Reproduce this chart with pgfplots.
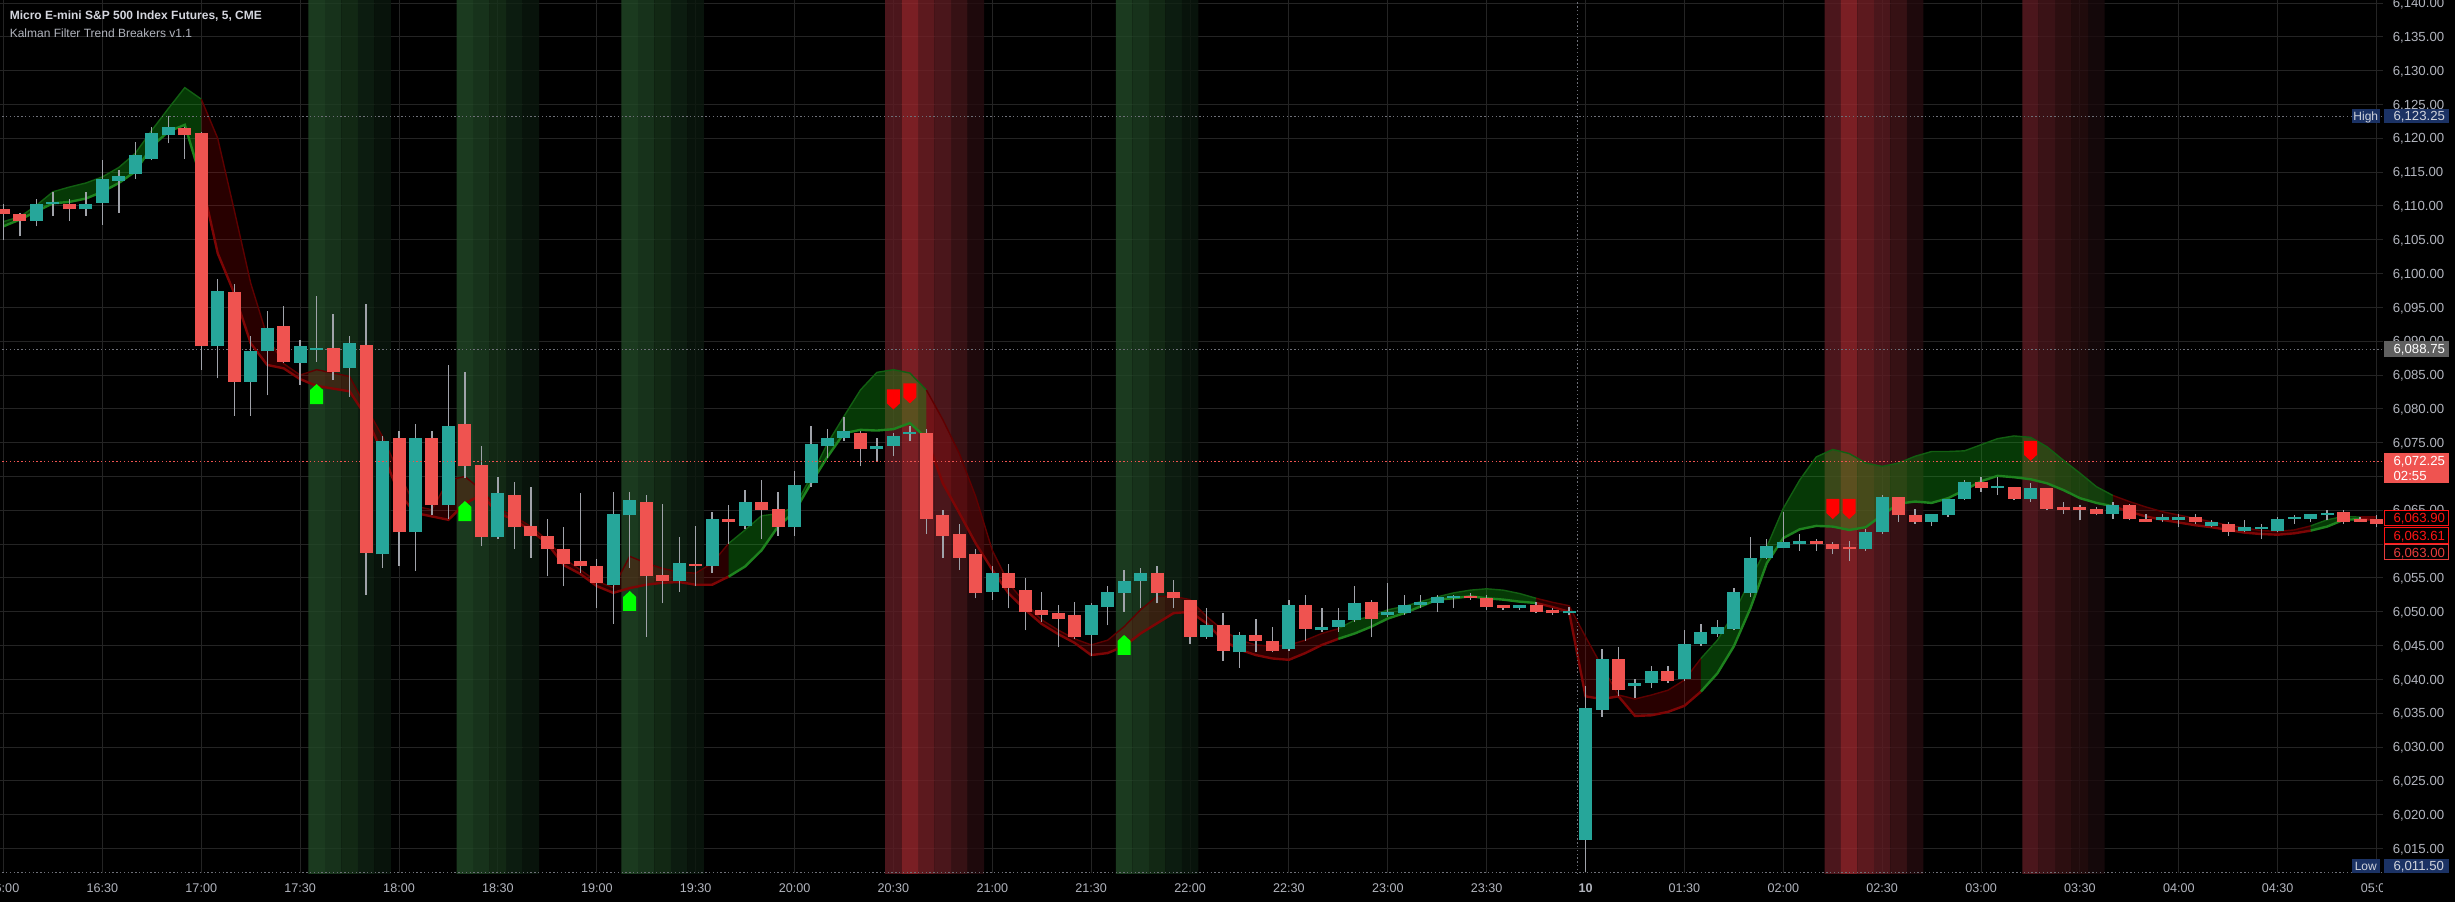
\documentclass[border=0pt]{standalone}
\usepackage{fontspec}
\setmainfont{Liberation Sans}
\usepackage{pgfplots}
\pgfplotsset{compat=1.18}
\usepackage{pgfplotstable}

\definecolor{bull}{RGB}{38,166,154}
\definecolor{bear}{RGB}{239,83,80}
\definecolor{wick}{RGB}{160,163,170}
\definecolor{gridc}{RGB}{36,36,36}
\definecolor{txt}{RGB}{178,181,190}
\definecolor{ttl}{RGB}{212,214,222}
\definecolor{gA}{RGB}{34,73,39}
\definecolor{gB}{RGB}{29,63,34}
\definecolor{gC}{RGB}{23,50,26}
\definecolor{gD}{RGB}{16,36,20}
\definecolor{gE}{RGB}{11,24,14}
\definecolor{rA}{RGB}{94,28,35}
\definecolor{rB}{RGB}{73,23,28}
\definecolor{rC}{RGB}{55,18,21}
\definecolor{rD}{RGB}{40,14,16}
\definecolor{rE}{RGB}{26,10,13}
\definecolor{dA}{RGB}{94,28,35}
\definecolor{dB}{RGB}{153,39,45}
\definecolor{dC}{RGB}{115,32,38}
\definecolor{dD}{RGB}{93,28,34}
\definecolor{dE}{RGB}{68,22,26}
\definecolor{dF}{RGB}{38,12,15}
\definecolor{gLineU}{RGB}{18,95,18}
\definecolor{gLineL}{RGB}{30,130,30}
\definecolor{rLineU}{RGB}{95,0,0}
\definecolor{rLineL}{RGB}{125,5,5}
\definecolor{gFill}{RGB}{20,190,20}
\definecolor{rFill}{RGB}{200,0,0}
\definecolor{arrG}{RGB}{0,255,0}
\definecolor{arrR}{RGB}{255,0,0}
\definecolor{hiblue}{RGB}{27,50,100}
\definecolor{hitxt}{RGB}{209,212,220}
\definecolor{grbox}{RGB}{96,96,96}
\definecolor{dotgray}{RGB}{110,112,120}
\definecolor{boxred}{RGB}{255,20,20}
\definecolor{boxred2}{RGB}{230,60,60}

\pgfplotsset{
  gU/.style={draw=gLineU, line width=0.35pt},
  gL/.style={draw=gLineL, line width=0.6pt},
  rU/.style={draw=rLineU, line width=0.35pt},
  rL/.style={draw=rLineL, line width=0.6pt},
  gfill/.style={fill=gFill, fill opacity=0.3, draw=none},
  rfill/.style={fill=rFill, fill opacity=0.2, draw=none},
}

\pgfdeclareplotmark{tvup}{%
  \pgfpathmoveto{\pgfqpoint{-1.625pt}{-2.5pt}}%
  \pgfpathlineto{\pgfqpoint{1.625pt}{-2.5pt}}%
  \pgfpathlineto{\pgfqpoint{1.625pt}{1.0pt}}%
  \pgfpathlineto{\pgfqpoint{0pt}{2.5pt}}%
  \pgfpathlineto{\pgfqpoint{-1.625pt}{1.0pt}}%
  \pgfpathclose\pgfusepathqfill}
\pgfdeclareplotmark{tvdn}{%
  \pgfpathmoveto{\pgfqpoint{-1.625pt}{2.5pt}}%
  \pgfpathlineto{\pgfqpoint{1.625pt}{2.5pt}}%
  \pgfpathlineto{\pgfqpoint{1.625pt}{-1.0pt}}%
  \pgfpathlineto{\pgfqpoint{0pt}{-2.5pt}}%
  \pgfpathlineto{\pgfqpoint{-1.625pt}{-1.0pt}}%
  \pgfpathclose\pgfusepathqfill}

\pgfplotstableread{
i o h l c
2 6107.75 6111.0 6107.0 6110.25
3 6110.25 6112.0 6108.5 6110.5
5 6109.5 6112.0 6108.5 6110.25
6 6110.5 6116.75 6107.25 6114.0
7 6113.75 6115.25 6109.0 6114.5
8 6114.75 6119.5 6114.0 6117.5
9 6117.0 6121.75 6116.75 6120.75
10 6120.5 6123.25 6119.25 6121.75
13 6089.25 6099.25 6084.5 6097.5
15 6084.0 6090.75 6079.0 6088.5
16 6088.5 6094.5 6082.0 6092.0
18 6086.75 6090.25 6083.5 6089.25
19 6088.75 6096.75 6087.0 6088.75
21 6086.0 6090.75 6081.75 6089.75
23 6058.5 6076.0 6056.5 6075.25
25 6061.75 6077.75 6056.0 6075.75
27 6065.75 6086.5 6063.75 6077.5
30 6061.0 6070.0 6060.75 6067.5
37 6054.0 6067.75 6048.25 6064.5
38 6064.25 6067.75 6056.5 6066.5
41 6054.5 6061.0 6053.0 6057.25
43 6056.75 6064.75 6055.75 6063.75
45 6062.75 6068.0 6062.25 6066.25
48 6062.5 6070.75 6061.25 6068.75
49 6069.0 6077.5 6068.5 6074.75
50 6074.5 6077.0 6072.75 6075.75
51 6075.75 6078.75 6075.25 6076.75
53 6074.0 6075.75 6072.25 6074.5
54 6074.5 6076.5 6073.0 6076.0
55 6076.25 6077.5 6075.25 6076.5
60 6053.0 6056.75 6051.75 6055.75
66 6046.5 6051.25 6043.5 6051.0
67 6050.75 6053.75 6048.0 6053.0
68 6052.75 6056.25 6050.0 6054.5
69 6054.5 6056.5 6050.5 6055.75
73 6046.25 6050.5 6046.0 6048.0
75 6044.0 6047.0 6041.75 6046.5
78 6044.5 6051.75 6044.25 6051.0
80 6047.25 6050.5 6047.0 6047.75
81 6047.75 6050.5 6047.0 6048.75
82 6048.75 6053.75 6048.5 6051.25
84 6049.5 6054.25 6049.25 6050.0
85 6049.75 6052.5 6049.5 6051.0
86 6051.0 6052.5 6050.5 6051.5
87 6051.25 6052.5 6050.0 6052.25
88 6052.0 6052.5 6050.5 6052.25
92 6050.5 6051.0 6050.25 6051.0
95 6049.75 6050.75 6049.5 6050.0
96 6016.25 6039.0 6011.5 6035.75
97 6035.5 6044.5 6034.5 6043.0
99 6039.0 6040.0 6037.25 6039.5
100 6039.5 6042.0 6038.75 6041.25
102 6040.0 6047.25 6039.75 6045.25
103 6045.25 6048.25 6045.0 6047.0
104 6046.75 6048.75 6046.25 6047.75
105 6047.5 6053.5 6047.25 6053.0
106 6052.75 6061.0 6052.25 6058.0
107 6058.0 6060.75 6057.75 6059.75
108 6059.5 6064.75 6059.5 6060.25
109 6060.0 6061.5 6059.0 6060.5
113 6059.25 6062.25 6059.0 6061.75
114 6061.75 6067.25 6061.5 6067.0
117 6063.25 6064.5 6062.75 6064.5
118 6064.25 6066.75 6064.0 6066.75
119 6066.75 6069.5 6066.5 6069.25
121 6068.25 6070.0 6067.25 6068.5
123 6066.75 6069.0 6066.25 6068.25
128 6064.5 6066.25 6063.75 6065.75
131 6063.5 6064.5 6063.25 6064.0
132 6063.5 6064.5 6062.5 6064.0
134 6062.75 6063.5 6062.5 6063.25
136 6062.0 6063.5 6061.75 6062.5
137 6062.25 6063.0 6060.75 6062.5
138 6062.0 6064.0 6061.75 6063.75
139 6063.75 6064.25 6063.0 6064.0
140 6063.75 6064.5 6063.25 6064.5
141 6064.25 6065.0 6063.5 6064.5
}\bull

\pgfplotstableread{
i o h l c
0 6109.5 6110.25 6105.0 6108.75
1 6108.75 6109.0 6105.5 6107.75
4 6110.25 6111.0 6107.75 6109.5
11 6121.5 6121.75 6117.0 6120.5
12 6120.75 6121.0 6085.75 6089.25
14 6097.25 6098.5 6079.0 6084.0
17 6092.25 6095.25 6086.75 6087.0
20 6089.0 6094.0 6084.25 6085.5
22 6089.5 6095.5 6052.5 6058.75
24 6075.75 6076.75 6056.75 6061.75
26 6075.75 6076.75 6064.25 6065.75
28 6077.75 6085.5 6069.75 6071.5
29 6071.75 6074.5 6059.75 6061.0
31 6067.25 6069.25 6059.25 6062.5
32 6062.75 6068.5 6058.0 6061.25
33 6061.25 6063.75 6055.25 6059.25
34 6059.25 6062.5 6053.75 6057.0
35 6057.5 6067.5 6055.75 6056.75
36 6056.75 6057.75 6050.5 6054.25
39 6066.25 6067.25 6046.25 6055.25
40 6055.5 6066.0 6051.25 6054.5
42 6057.0 6062.75 6053.75 6056.75
44 6063.75 6065.75 6060.0 6063.25
46 6066.25 6069.5 6060.75 6065.0
47 6065.25 6067.75 6061.25 6062.5
52 6076.5 6076.75 6071.5 6074.0
56 6076.5 6077.0 6061.5 6063.75
57 6064.25 6065.0 6058.0 6061.25
58 6061.5 6063.0 6056.25 6058.0
59 6058.5 6059.25 6052.0 6052.75
61 6055.75 6057.0 6050.5 6053.5
62 6053.25 6055.0 6047.25 6050.0
63 6050.25 6053.0 6048.5 6049.5
64 6049.75 6051.0 6044.75 6049.0
65 6049.5 6051.5 6046.0 6046.25
70 6055.75 6056.75 6051.25 6052.75
71 6053.0 6054.75 6050.5 6052.0
72 6051.75 6051.75 6045.25 6046.25
74 6048.0 6049.75 6042.75 6044.25
76 6046.5 6049.0 6044.0 6045.75
77 6045.75 6047.75 6044.0 6044.25
79 6051.0 6052.5 6045.75 6047.5
83 6051.5 6051.75 6046.25 6049.0
89 6052.25 6052.75 6051.75 6052.0
90 6052.0 6052.5 6050.25 6050.75
91 6051.0 6051.0 6050.25 6050.5
93 6051.0 6051.5 6049.75 6050.0
94 6050.25 6050.5 6049.5 6049.75
98 6043.0 6044.75 6037.5 6038.5
101 6041.25 6042.0 6039.5 6039.75
110 6060.5 6060.75 6059.0 6060.0
111 6060.0 6060.25 6058.5 6059.25
112 6059.5 6060.5 6057.5 6059.25
115 6067.0 6067.0 6063.25 6064.25
116 6064.25 6065.25 6063.0 6063.25
120 6069.25 6070.0 6067.75 6068.25
122 6068.5 6068.5 6066.5 6066.75
124 6068.25 6068.25 6065.0 6065.25
125 6065.5 6066.25 6064.5 6065.0
126 6065.5 6065.75 6063.5 6065.0
127 6065.25 6065.5 6064.25 6064.5
129 6065.75 6066.0 6063.5 6063.75
130 6063.75 6064.5 6063.25 6063.25
133 6064.0 6064.5 6063.0 6063.25
135 6063.0 6063.25 6061.25 6061.75
142 6064.75 6065.0 6063.0 6063.25
143 6063.75 6064.0 6063.25 6063.25
144 6063.75 6064.25 6062.5 6063.0
}\bear

\pgfplotstableread{
i up lo
0 6107.7 6107.0
1 6108.4 6108.0
2 6110.1 6109.2
3 6112.1 6110.4
4 6112.8 6110.6
5 6113.4 6111.1
6 6114.3 6112.1
7 6115.7 6113.4
8 6117.8 6115.1
9 6121.2 6118.8
10 6124.4 6121.0
11 6127.5 6122.0
12 6125.8 6113.9
13 6120.0 6103.0
14 6109.4 6097.1
15 6098.6 6089.7
16 6090.7 6086.5
17 6086.7 6086.0
18 6085.0 6084.4
19 6085.8 6083.4
20 6085.3 6083.0
21 6084.8 6082.6
22 6080.3 6078.9
23 6075.9 6073.4
24 6070.5 6067.5
25 6065.6 6064.6
26 6065.1 6064.1
27 6069.5 6063.6
28 6070.0 6066.0
29 6068.0 6067.3
30 6065.3 6064.6
31 6064.1 6063.6
32 6062.6 6062.0
33 6060.6 6060.1
34 6057.9 6056.9
35 6056.2 6055.6
36 6054.5 6053.8
37 6053.6 6052.8
38 6058.2 6053.5
39 6057.2 6054.0
40 6056.4 6054.3
41 6055.9 6054.4
42 6055.7 6054.0
43 6057.2 6054.0
44 6060.1 6055.2
45 6062.1 6056.7
46 6064.2 6059.1
47 6064.5 6062.6
48 6065.5 6064.8
49 6070.0 6069.0
50 6074.9 6072.9
51 6078.9 6076.4
52 6082.8 6076.9
53 6085.4 6076.8
54 6085.8 6077.0
55 6085.3 6077.9
56 6082.8 6075.7
57 6078.4 6069.0
58 6073.4 6064.6
59 6067.0 6060.1
60 6059.1 6056.2
61 6054.2 6052.7
62 6051.3 6050.3
63 6048.8 6048.2
64 6047.3 6046.7
65 6046.0 6045.4
66 6045.1 6043.6
67 6045.8 6043.9
68 6047.8 6044.9
69 6050.3 6046.8
70 6052.3 6048.3
71 6052.3 6049.8
72 6051.8 6050.0
73 6049.3 6048.3
74 6047.3 6045.8
75 6045.8 6044.4
76 6045.1 6043.6
77 6044.9 6043.1
78 6045.1 6042.9
79 6045.8 6043.9
80 6046.8 6045.1
81 6047.5 6046.0
82 6048.8 6046.8
83 6049.3 6047.8
84 6050.3 6049.0
85 6050.8 6049.8
86 6051.5 6050.8
87 6052.2 6051.8
88 6052.8 6052.0
89 6053.2 6052.3
90 6053.4 6052.0
91 6053.2 6051.8
92 6052.7 6051.5
93 6052.0 6051.3
94 6051.4 6050.7
95 6050.9 6050.0
96 6046.3 6037.5
97 6041.9 6037.1
98 6037.7 6037.5
99 6037.1 6034.6
100 6037.7 6034.7
101 6038.4 6035.2
102 6039.9 6036.1
103 6043.1 6038.2
104 6045.8 6040.9
105 6049.8 6044.9
106 6054.7 6050.5
107 6059.6 6057.2
108 6065.3 6060.9
109 6069.5 6062.2
110 6072.9 6062.7
111 6074.0 6062.6
112 6073.4 6062.1
113 6072.0 6062.5
114 6071.5 6064.3
115 6072.0 6066.0
116 6073.0 6066.3
117 6073.7 6066.1
118 6073.7 6066.8
119 6073.8 6068.0
120 6074.7 6069.3
121 6075.6 6070.1
122 6076.0 6069.9
123 6075.8 6069.6
124 6074.4 6069.0
125 6072.4 6068.0
126 6070.5 6066.8
127 6068.5 6066.1
128 6067.2 6065.6
129 6066.3 6064.8
130 6065.5 6064.1
131 6064.8 6063.6
132 6064.3 6063.2
133 6063.8 6062.8
134 6063.3 6062.5
135 6062.8 6062.1
136 6062.4 6061.7
137 6062.0 6061.5
138 6061.9 6061.4
139 6062.1 6061.6
140 6062.7 6062.0
141 6063.6 6062.6
142 6064.1 6063.6
143 6064.0 6063.7
144 6064.0 6063.6
}\band

\newcommand\bg[3]{\addplot[fill=#3, fill opacity=0.8, draw=none, forget plot] coordinates {(#1,6000) (#2,6000) (#2,6150) (#1,6150) (#1,6000)};}
\newcommand\bandlines[3]{%
  \addplot[#3U, forget plot, restrict x to domain=#1:#2] table[x=i,y=up]{\band};
  \addplot[#3L, forget plot, restrict x to domain=#1:#2] table[x=i,y=lo]{\band};
}
\newcommand\lblfont{\fontsize{3.3pt}{3.9pt}\selectfont}

\begin{document}
\begin{tikzpicture}
\fill[black] (0,0) rectangle (613.75pt,225.5pt);
\begin{axis}[
  at={(0pt,7.25pt)}, anchor=south west,
  scale only axis, width=595.75pt, height=218.25pt,
  xmin=-0.2124, xmax=144.39, ymin=6011.38, ymax=6140.458,
  axis line style={draw=none},
  major tick length=0pt,
  grid=major, major grid style={draw=gridc, line width=0.25pt},
  xtick={0,6,...,144},
  xticklabels={16:00,16:30,17:00,17:30,18:00,18:30,19:00,19:30,20:00,20:30,21:00,21:30,22:00,22:30,23:00,23:30,\textbf{10},01:30,02:00,02:30,03:00,03:30,04:00,04:30,05:00},
  xticklabel style={font=\fontsize{3.15pt}{3.7pt}\selectfont, text=txt, anchor=center, inner sep=0pt, yshift=-3.75pt},
  ytick={6015,6020,...,6140},
  yticklabel pos=right,
  yticklabel style={font=\lblfont, text=txt, anchor=west, inner sep=0pt, xshift=2.25pt, text depth=0pt},
  yticklabel={\pgfmathprintnumber[fixed,fixed zerofill,precision=2,1000 sep={,},assume math mode=true]{\tick}},
  /pgf/number format/assume math mode=true,
]
% background signal shading
\bg{18.5}{19.5}{gA}\bg{19.5}{20.5}{gB}\bg{20.5}{21.5}{gC}\bg{21.5}{22.5}{gD}\bg{22.5}{23.5}{gE}
\bg{27.5}{28.5}{gA}\bg{28.5}{29.5}{gB}\bg{29.5}{30.5}{gC}\bg{30.5}{31.5}{gD}\bg{31.5}{32.5}{gE}
\bg{37.5}{38.5}{gA}\bg{38.5}{39.5}{gB}\bg{39.5}{40.5}{gC}\bg{40.5}{41.5}{gD}\bg{41.5}{42.5}{gE}
\bg{67.5}{68.5}{gA}\bg{68.5}{69.5}{gB}\bg{69.5}{70.5}{gC}\bg{70.5}{71.5}{gD}\bg{71.5}{72.5}{gE}
\bg{53.5}{54.5}{dA}\bg{54.5}{55.5}{dB}\bg{55.5}{56.5}{dC}\bg{56.5}{57.5}{dD}\bg{57.5}{58.5}{dE}\bg{58.5}{59.5}{dF}
\bg{110.5}{111.5}{dA}\bg{111.5}{112.5}{dB}\bg{112.5}{113.5}{dC}\bg{113.5}{114.5}{dD}\bg{114.5}{115.5}{dE}\bg{115.5}{116.5}{dF}
\bg{122.5}{123.5}{rA}\bg{123.5}{124.5}{rB}\bg{124.5}{125.5}{rC}\bg{125.5}{126.5}{rD}\bg{126.5}{127.5}{rE}
% Kalman band fills (upper edge forward, lower edge back)
\addplot[gfill, forget plot] coordinates {(0,6107.7)(1,6108.4)(2,6110.1)(3,6112.1)(4,6112.8)(5,6113.4)(6,6114.3)(7,6115.7)(8,6117.8)(9,6121.2)(10,6124.4)(11,6127.5)(12,6125.8)(12,6113.9)(11,6122.0)(10,6121.0)(9,6118.8)(8,6115.1)(7,6113.4)(6,6112.1)(5,6111.1)(4,6110.6)(3,6110.4)(2,6109.2)(1,6108.0)(0,6107.0)};
\addplot[rfill, forget plot] coordinates {(12,6125.8)(13,6120.0)(14,6109.4)(15,6098.6)(16,6090.7)(17,6086.7)(18,6085.0)(19,6085.8)(20,6085.3)(21,6084.8)(22,6080.3)(23,6075.9)(24,6070.5)(25,6065.6)(26,6065.1)(27,6069.5)(28,6070.0)(29,6068.0)(30,6065.3)(31,6064.1)(32,6062.6)(33,6060.6)(34,6057.9)(35,6056.2)(36,6054.5)(37,6053.6)(38,6058.2)(39,6057.2)(40,6056.4)(41,6055.9)(42,6055.7)(43,6057.2)(44,6060.1)(44,6055.2)(43,6054.0)(42,6054.0)(41,6054.4)(40,6054.3)(39,6054.0)(38,6053.5)(37,6052.8)(36,6053.8)(35,6055.6)(34,6056.9)(33,6060.1)(32,6062.0)(31,6063.6)(30,6064.6)(29,6067.3)(28,6066.0)(27,6063.6)(26,6064.1)(25,6064.6)(24,6067.5)(23,6073.4)(22,6078.9)(21,6082.6)(20,6083.0)(19,6083.4)(18,6084.4)(17,6086.0)(16,6086.5)(15,6089.7)(14,6097.1)(13,6103.0)(12,6113.9)};
\addplot[gfill, forget plot] coordinates {(44,6060.1)(45,6062.1)(46,6064.2)(47,6064.5)(48,6065.5)(49,6070.0)(50,6074.9)(51,6078.9)(52,6082.8)(53,6085.4)(54,6085.8)(55,6085.3)(56,6082.8)(56,6075.7)(55,6077.9)(54,6077.0)(53,6076.8)(52,6076.9)(51,6076.4)(50,6072.9)(49,6069.0)(48,6064.8)(47,6062.6)(46,6059.1)(45,6056.7)(44,6055.2)};
\addplot[rfill, forget plot] coordinates {(56,6082.8)(57,6078.4)(58,6073.4)(59,6067.0)(60,6059.1)(61,6054.2)(62,6051.3)(63,6048.8)(64,6047.3)(65,6046.0)(66,6045.1)(67,6045.8)(68,6047.8)(69,6050.3)(70,6052.3)(71,6052.3)(72,6051.8)(73,6049.3)(74,6047.3)(75,6045.8)(76,6045.1)(77,6044.9)(78,6045.1)(79,6045.8)(80,6046.8)(81,6047.5)(81,6046.0)(80,6045.1)(79,6043.9)(78,6042.9)(77,6043.1)(76,6043.6)(75,6044.4)(74,6045.8)(73,6048.3)(72,6050.0)(71,6049.8)(70,6048.3)(69,6046.8)(68,6044.9)(67,6043.9)(66,6043.6)(65,6045.4)(64,6046.7)(63,6048.2)(62,6050.3)(61,6052.7)(60,6056.2)(59,6060.1)(58,6064.6)(57,6069.0)(56,6075.7)};
\addplot[gfill, forget plot] coordinates {(81,6047.5)(82,6048.8)(83,6049.3)(84,6050.3)(85,6050.8)(86,6051.5)(87,6052.2)(88,6052.8)(89,6053.2)(90,6053.4)(91,6053.2)(92,6052.7)(93,6052.0)(93,6051.3)(92,6051.5)(91,6051.8)(90,6052.0)(89,6052.3)(88,6052.0)(87,6051.8)(86,6050.8)(85,6049.8)(84,6049.0)(83,6047.8)(82,6046.8)(81,6046.0)};
\addplot[rfill, forget plot] coordinates {(93,6052.0)(94,6051.4)(95,6050.9)(96,6046.3)(97,6041.9)(98,6037.7)(99,6037.1)(100,6037.7)(101,6038.4)(102,6039.9)(103,6043.1)(103,6038.2)(102,6036.1)(101,6035.2)(100,6034.7)(99,6034.6)(98,6037.5)(97,6037.1)(96,6037.5)(95,6050.0)(94,6050.7)(93,6051.3)};
\addplot[gfill, forget plot] coordinates {(103,6043.1)(104,6045.8)(105,6049.8)(106,6054.7)(107,6059.6)(108,6065.3)(109,6069.5)(110,6072.9)(111,6074.0)(112,6073.4)(113,6072.0)(114,6071.5)(115,6072.0)(116,6073.0)(117,6073.7)(118,6073.7)(119,6073.8)(120,6074.7)(121,6075.6)(122,6076.0)(123,6075.8)(124,6074.4)(125,6072.4)(126,6070.5)(127,6068.5)(128,6067.2)(128,6065.6)(127,6066.1)(126,6066.8)(125,6068.0)(124,6069.0)(123,6069.6)(122,6069.9)(121,6070.1)(120,6069.3)(119,6068.0)(118,6066.8)(117,6066.1)(116,6066.3)(115,6066.0)(114,6064.3)(113,6062.5)(112,6062.1)(111,6062.6)(110,6062.7)(109,6062.2)(108,6060.9)(107,6057.2)(106,6050.5)(105,6044.9)(104,6040.9)(103,6038.2)};
\addplot[rfill, forget plot] coordinates {(128,6067.2)(129,6066.3)(130,6065.5)(131,6064.8)(132,6064.3)(133,6063.8)(134,6063.3)(135,6062.8)(136,6062.4)(137,6062.0)(138,6061.9)(139,6062.1)(140,6062.7)(140,6062.0)(139,6061.6)(138,6061.4)(137,6061.5)(136,6061.7)(135,6062.1)(134,6062.5)(133,6062.8)(132,6063.2)(131,6063.6)(130,6064.1)(129,6064.8)(128,6065.6)};
\addplot[gfill, forget plot] coordinates {(140,6062.7)(141,6063.6)(142,6064.1)(143,6064.0)(143,6063.7)(142,6063.6)(141,6062.6)(140,6062.0)};
\addplot[rfill, forget plot] coordinates {(143,6064.0)(144,6064.0)(144,6063.6)(143,6063.7)};
% Kalman band edges
\bandlines{0}{12}{g}
\bandlines{12}{44}{r}
\bandlines{44}{56}{g}
\bandlines{56}{81}{r}
\bandlines{81}{93}{g}
\bandlines{93}{103}{r}
\bandlines{103}{128}{g}
\bandlines{128}{140}{r}
\bandlines{140}{143}{g}
\bandlines{143}{144}{r}
% price lines
\addplot[forget plot, draw=dotgray, line width=0.3pt, dash pattern=on 0.35pt off 0.6pt] coordinates {(-1,6123.25) (146,6123.25)};
\addplot[forget plot, draw=dotgray, line width=0.3pt, dash pattern=on 0.35pt off 0.6pt] coordinates {(-1,6088.75) (146,6088.75)};
\addplot[forget plot, draw=dotgray, line width=0.3pt, dash pattern=on 0.35pt off 0.6pt] coordinates {(-1,6011.5) (146,6011.5)};
\addplot[forget plot, draw=dotgray, line width=0.3pt, dash pattern=on 0.35pt off 0.6pt] coordinates {(95.5,6000) (95.5,6150)};
% wicks
\addplot[forget plot, draw=none, mark=none, error bars/.cd, y dir=plus, y explicit, error mark=none, error bar style={draw=wick, line width=0.33pt}] table[x=i, y=l, y error plus expr=\thisrow{h}-\thisrow{l}] {\bull};
\addplot[forget plot, draw=none, mark=none, error bars/.cd, y dir=plus, y explicit, error mark=none, error bar style={draw=wick, line width=0.33pt}] table[x=i, y=l, y error plus expr=\thisrow{h}-\thisrow{l}] {\bear};
% bodies
\addplot[forget plot, draw=none, mark=none, error bars/.cd, y dir=plus, y explicit, error mark=none, error bar style={draw=bull, line width=3.25pt}] table[x=i, y=o, y error plus expr={max(\thisrow{c}-\thisrow{o},0.3)}] {\bull};
\addplot[forget plot, draw=none, mark=none, error bars/.cd, y dir=plus, y explicit, error mark=none, error bar style={draw=bear, line width=3.25pt}] table[x=i, y=c, y error plus expr={max(\thisrow{o}-\thisrow{c},0.3)}] {\bear};
\addplot[forget plot, draw=bear, line width=0.3pt, dash pattern=on 0.35pt off 0.6pt] coordinates {(-1,6072.25) (146,6072.25)};
% signals
\addplot[forget plot, only marks, mark=tvup, mark options={fill=arrG, draw=none}] coordinates {(19,6082.2) (28,6064.9) (38,6051.6) (68,6045.1)};
\addplot[forget plot, only marks, mark=tvdn, mark options={fill=arrR, draw=none}] coordinates {(54,6081.4) (55,6082.3) (111,6065.2) (112,6065.2) (123,6073.8)};
\end{axis}
% cover under price scale
\fill[black] (595.75pt,0) rectangle (613.75pt,7.25pt);
% title
\node[anchor=base west, inner sep=0pt, text=ttl, font=\fontsize{3pt}{3.6pt}\selectfont\bfseries] at (2.25pt,220.5pt) {Micro E-mini S\&P 500 Index Futures, 5, CME};
\node[anchor=base west, inner sep=0pt, text=txt, font=\fontsize{3pt}{3.6pt}\selectfont] at (2.25pt,216.2pt) {Kalman Filter Trend Breakers v1.1};
% price scale tags
\fill[hiblue] (587.9pt,194.72pt) rectangle (595pt,198.18pt);
\node[font=\fontsize{3pt}{3.6pt}\selectfont, text=hitxt, inner sep=0pt, text depth=0pt] at (591.45pt,196.45pt) {High};
\fill[hiblue] (596pt,194.72pt) rectangle (612.3pt,198.18pt);
\node[font=\lblfont, text=hitxt, anchor=west, inner sep=0pt, text depth=0pt] at (598.2pt,196.45pt) {6,123.25};
\fill[grbox] (596pt,136.18pt) rectangle (612.3pt,140.2pt);
\node[font=\lblfont, text=white, anchor=west, inner sep=0pt, text depth=0pt] at (598.2pt,138.2pt) {6,088.75};
\fill[bear] (596pt,104.68pt) rectangle (612.3pt,112.3pt);
\node[font=\lblfont, text=white, anchor=west, inner sep=0pt, text depth=0pt] at (598.2pt,110.2pt) {6,072.25};
\node[font=\lblfont, text=white, anchor=west, inner sep=0pt, text depth=0pt] at (598.2pt,106.5pt) {02:55};
\draw[boxred, line width=0.3pt, fill=black] (596.2pt,94.03pt) rectangle (612.1pt,97.9pt);
\node[font=\lblfont, text=boxred, anchor=west, inner sep=0pt, text depth=0pt] at (598.2pt,95.97pt) {6,063.90};
\draw[boxred, line width=0.3pt, fill=black] (596.2pt,89.7pt) rectangle (612.1pt,93.6pt);
\node[font=\lblfont, text=boxred, anchor=west, inner sep=0pt, text depth=0pt] at (598.2pt,91.65pt) {6,063.61};
\draw[boxred2, line width=0.3pt, fill=black] (596.2pt,85.55pt) rectangle (612.1pt,89.28pt);
\node[font=\lblfont, text=boxred2, anchor=west, inner sep=0pt, text depth=0pt] at (598.2pt,87.4pt) {6,063.00};
\fill[hiblue] (587.9pt,7.25pt) rectangle (595pt,10.75pt);
\node[font=\fontsize{3pt}{3.6pt}\selectfont, text=hitxt, inner sep=0pt, text depth=0pt] at (591.45pt,9pt) {Low};
\fill[hiblue] (596pt,7.25pt) rectangle (612.3pt,10.75pt);
\node[font=\lblfont, text=hitxt, anchor=west, inner sep=0pt, text depth=0pt] at (598.2pt,9pt) {6,011.50};
\pgfresetboundingbox
\useasboundingbox (0,0) rectangle (613.75pt,225.5pt);
\end{tikzpicture}
\end{document}
